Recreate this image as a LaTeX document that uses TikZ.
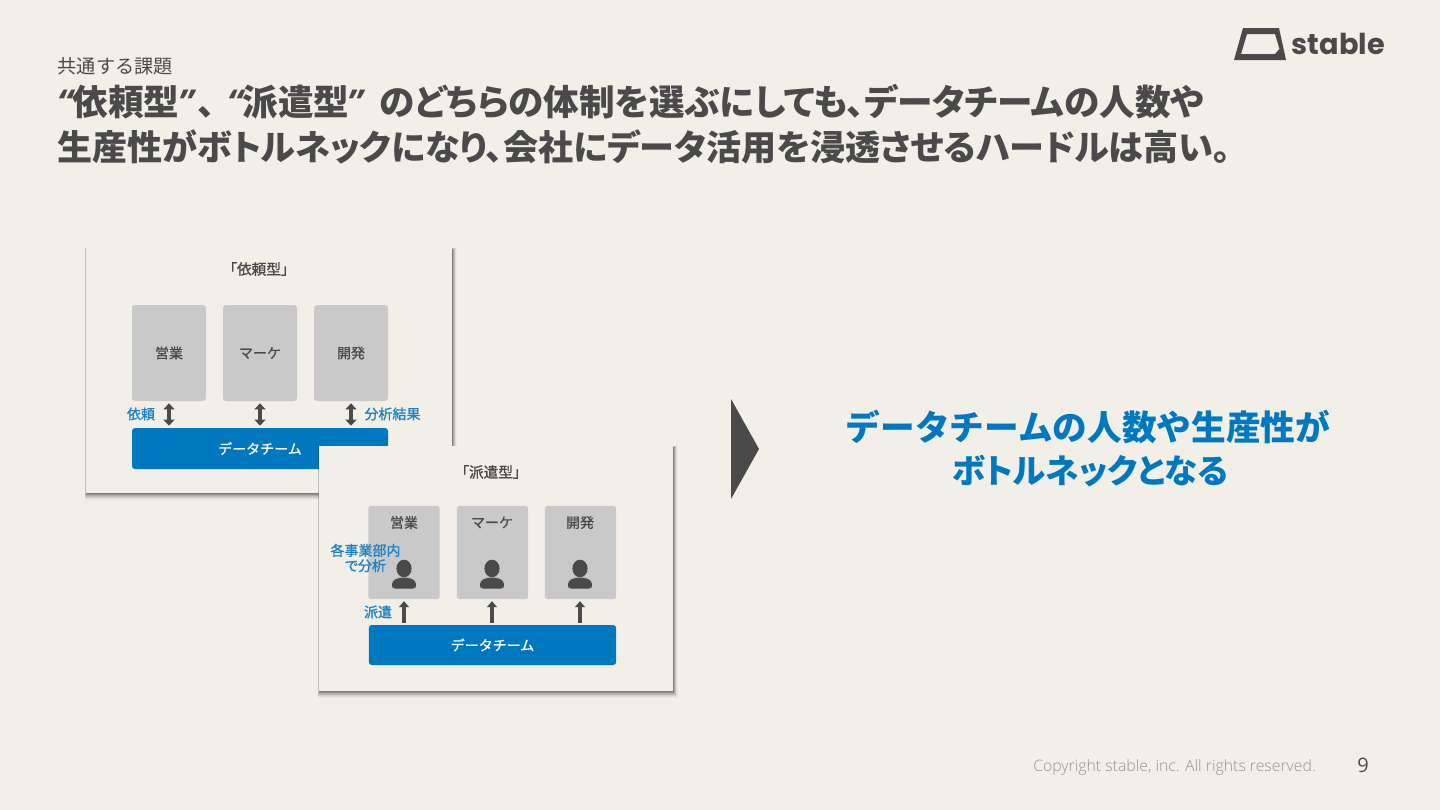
\documentclass[tikz,border=0pt]{standalone}
\usepackage{fontspec}
\usetikzlibrary{arrows.meta}
\setmainfont{Open Sans}
\newfontfamily\jp[RawFeature=+palt]{Noto Sans CJK JP}
\newfontfamily\jpf{Noto Sans CJK JP}
\newfontfamily\jpm[FakeBold=0.8]{Noto Sans CJK JP}
\newfontfamily\jpmp[FakeBold=1.2,RawFeature=+palt]{Noto Sans CJK JP}
\newfontfamily\pop{Poppins}
\newfontfamily\opn{Open Sans}
\newfontfamily\opl{Open Sans Light}
\definecolor{bg}{HTML}{F2EFE9}
\definecolor{ink}{HTML}{4A4A4A}
\definecolor{blu}{HTML}{0078C0}
\definecolor{lab}{HTML}{1D83C3}
\definecolor{gbox}{HTML}{C9C9C9}
\newcommand{\fs}[1]{\fontsize{#1}{#1}\selectfont}
\newcommand{\q}[1]{{\opn\bfseries\itshape #1}}
\newcommand{\panelshadow}[4]{%
  \foreach \e/\o in {6/.03,5/.04,4/.06,3/.08,2/.10,1/.13,0/.16}{
    \fill[black,opacity=\o] (#1-0.2*\e,#2-0.2*\e+1) rectangle (#3+0.7*\e+0.5,#4+\e+0.5);
  }}
\tikzset{
  x=0.75pt,y=-0.75pt,
  panel/.style={fill=bg,draw=none,inner sep=0},
  gbx/.style={fill=gbox,rounded corners=2.2pt,inner sep=0,text=ink,font=\jpm\fs{10.5}},
  team/.style={fill=blu,rounded corners=2.2pt,inner sep=0,text=white,font=\jpm\fs{10.5}},
  lbl/.style={text=lab,font=\jpmp\fs{10.5},inner sep=0,align=center},
  ttl/.style={text=ink,font=\jpmp\fs{11},inner sep=0},
  sub/.style={text=ink,font=\jpm\fs{10.5},inner sep=0},
  arr2/.style={ink,line width=2.6pt,{Triangle[width=8pt,length=4.5pt]}-{Triangle[width=8pt,length=4.5pt]}},
  arr1/.style={ink,line width=3.6pt,-{Triangle[width=7.5pt,length=4.5pt]}},
  head/.style={text=ink,font=\jp\bfseries\fs{26.3},inner sep=0,anchor=base west},
  bigt/.style={text=blu,font=\jpf\bfseries\fs{26},inner sep=0,anchor=base},
}
\begin{document}
\begin{tikzpicture}
\fill[bg] (0,0) rectangle (1440,810);
\useasboundingbox (0,0) rectangle (1440,810);
% heading
\node[text=ink,font=\jpf\fs{14.4},inner sep=0,anchor=base west] (kicker) at (57.5,73.5) {共通する課題};
\node[head,font=\jp\bfseries\fs{26.7}] (h1) at (57,115) {\q{“}依頼型\hspace{-0.5pt}\q{”}\hspace{2.5pt}、\hspace{9pt}\q{“}派遣型\hspace{-1.5pt}\q{”}\hspace{12.5pt}のどちらの体制を選ぶにしても、データチームの人数や};
\node[head] (h2) at (57,160) {生産性がボトルネックになり、会社にデータ活用を浸透させるハードルは高い。};
% logo
\fill[ink,even odd rule] (1234,60) -- (1286,60) -- (1279,28) -- (1243,28) -- cycle
  (1241,54) -- (1275,54) -- (1279.5,49) -- (1275,34) -- (1247,34) -- cycle;
\node[text=ink,font=\pop\bfseries\fs{21.6},inner sep=0,anchor=base west] (logo) at (1291.5,55) {stable};
% panel 1
\panelshadow{86}{248}{452}{493}
\fill[panel] (86,248) rectangle (452,493);
\node[ttl] (p1t) at (259,269) {「依頼型」};
\node[gbx,minimum width=55.5pt,minimum height=72pt] (a1) at (169,353) {営業};
\node[gbx,minimum width=55.5pt,minimum height=72pt] (a2) at (260,353) {マーケ};
\node[gbx,minimum width=55.5pt,minimum height=72pt] (a3) at (351,353) {開発};
\node[team,minimum width=192pt,minimum height=30.75pt] (t1) at (260,448.5) {データチーム};
\draw[arr2] ([yshift=-1.5pt]a1.south) -- ([yshift=1.5pt]a1.south |- t1.north);
\draw[arr2] ([yshift=-1.5pt]a2.south) -- ([yshift=1.5pt]a2.south |- t1.north);
\draw[arr2] ([yshift=-1.5pt]a3.south) -- ([yshift=1.5pt]a3.south |- t1.north);
\node[lbl] (l1) at (141,414) {依頼};
\node[lbl] (l2) at (392.5,414) {分析結果};
% panel 2
\panelshadow{319}{446}{673}{691}
\fill[panel] (319,446) rectangle (673,691);
\node[ttl] (p2t) at (491,472) {「派遣型」};
\node[gbx,minimum width=53.5pt,minimum height=70pt] (b1) at (404,552.5) {};
\node[gbx,minimum width=53.5pt,minimum height=70pt] (b2) at (492.5,552.5) {};
\node[gbx,minimum width=53.5pt,minimum height=70pt] (b3) at (580.5,552.5) {};
\node[sub] (bt1) at (404,522.5) {営業};
\node[sub] (bt2) at (492,522.5) {マーケ};
\node[sub] (bt3) at (580,522.5) {開発};
\node[team,minimum width=185.5pt,minimum height=30pt] (t2) at (492.5,645) {データチーム};
\foreach \x in {404,492,580}{
  \fill[ink] (\x,568.5) ellipse[x radius=7.6,y radius=8.8];
  \fill[ink] (\x-12.2,585) .. controls (\x-12.2,579.5) and (\x-6,577.5) .. (\x,577.5)
     .. controls (\x+6,577.5) and (\x+12.2,579.5) .. (\x+12.2,585)
     .. controls (\x+12.2,587.5) and (\x+11,588.5) .. (\x+9,588.5)
     -- (\x-9,588.5) .. controls (\x-11,588.5) and (\x-12.2,587.5) .. (\x-12.2,585) -- cycle;
}
\draw[arr1] ([yshift=1.5pt]b1.south |- t2.north) -- ([yshift=-1.3pt]b1.south);
\draw[arr1] ([xshift=-0.4pt,yshift=1.5pt]t2.north) -- ([xshift=-0.4pt,yshift=-1.3pt]b2.south);
\draw[arr1] ([xshift=-0.4pt,yshift=1.5pt]b3.south |- t2.north) -- ([xshift=-0.4pt,yshift=-1.3pt]b3.south);
\node[lbl] (l3) at (365.5,558) {各事業部内\\[1pt]で分析};
\node[lbl] (l4) at (378,612) {派遣};
% arrow and message
\fill[ink] (731,399) -- (759,449) -- (731,499) -- cycle;
\node[bigt] (m1) at (1088,440) {データチームの人数や生産性が};
\node[bigt,font=\jp\bfseries\fs{25.1}] (m2) at (1090,483) {ボトルネックとなる};
% footer
\node[text=gray!85,font=\opl\fs{11.85},inner sep=0,anchor=base west] (copy) at (1033,771) {Copyright stable, inc. All rights reserved.};
\node[text=ink,font=\opn\fs{15},inner sep=0,anchor=base] (pg) at (1363,772) {9};
\end{tikzpicture}
\end{document}
